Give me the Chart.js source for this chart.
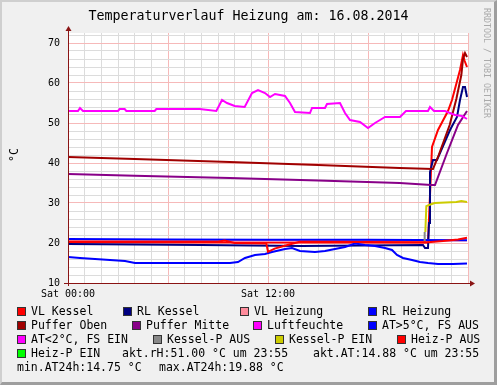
<!DOCTYPE html>
<html><head><meta charset="utf-8">
<script src="https://cdn.jsdelivr.net/npm/chart.js@4.4.1/dist/chart.umd.min.js"></script>
<style>
html,body{margin:0;padding:0;}
body{width:497px;height:385px;overflow:hidden;position:relative;background:#f0f0f0;font-family:"DejaVu Sans Mono",monospace;color:#000;}
#frame{position:absolute;left:0;top:0;width:492px;height:380px;border-left:2px solid #cfcfcf;border-top:2px solid #cfcfcf;border-right:3px solid #9e9e9e;border-bottom:3px solid #9e9e9e;}
canvas{position:absolute;left:0;top:0;}
.t{position:absolute;white-space:pre;font-size:11.5px;line-height:14px;}
.b{position:absolute;width:7px;height:7px;border:1px solid #333;}
#title{position:absolute;left:0;top:8px;width:497px;text-align:center;font-size:13.3px;line-height:16px;white-space:pre;}
#ylab{position:absolute;left:0px;top:148px;width:28px;text-align:center;font-size:11.5px;line-height:14px;transform:rotate(-90deg);}
#rrd{position:absolute;left:482px;top:8px;writing-mode:vertical-rl;font-size:8.3px;color:#aaaaaa;white-space:pre;}
</style></head>
<body>
<div id="frame"></div>
<canvas id="c" width="497" height="385"></canvas>
<div id="title">Temperaturverlauf Heizung am: 16.08.2014</div>
<div id="ylab">°C</div>
<div id="rrd">RRDTOOL / TOBI OETIKER</div>
<div id="legend"></div>
<script>
// ---- data (x = hours since Sat 00:00, y = value) ----
const xTickLabels = {0: 'Sat 00:00', 12: 'Sat 12:00'};
const yTickLabels = [10, 20, 30, 40, 50, 60, 70];

const vlKessel = [[0,20.2],[21.6,20.1],[21.72,32],[21.84,44],[22.2,48.25],[22.8,53],[23.04,55.75],[23.52,63.25],[23.7,67],[23.8,65.5],[23.94,64]];
const rlKessel = [[0,19.75],[8,19.5],[14,19.25],[21.3,19.5],[21.42,18.75],[21.6,18.75],[21.66,25],[21.72,37.75],[21.9,40.75],[22.14,40.75],[22.92,48.25],[23.34,51.5],[23.52,55.75],[23.7,59],[23.82,59],[23.94,56.5]];
const vlHeizung = [[0,20.6],[12,20.5],[23.94,20.6]];
const rlHeizung = [[0,21],[6,20.9],[12,20.8],[18,20.8],[23.94,20.7]];
const pufferOben = [[0,41.5],[4,41],[9.7,40.25],[15,39.5],[19.9,38.75],[21.9,38.5],[22.2,41.5],[22.9,49.5],[23.3,56],[23.6,62],[23.7,66],[23.82,67.5],[23.94,66.5]];
const pufferMitte = [[0,37.25],[4,36.8],[9.7,36.25],[15,35.6],[19.9,35],[21.8,34.5],[22.02,34.5],[22.74,42.5],[23.4,49.5],[23.94,53]];
const luftfeuchte = [[0,53],[0.6,53],[0.72,53.75],[0.9,53],[3.0,53],[3.1,53.5],[3.4,53.5],[3.5,53],[5.2,53],[5.3,53.5],[7.9,53.5],[8.9,53],[9.24,55.75],[9.54,55],[10.0,54.25],[10.6,54],[11.04,57.5],[11.4,58.25],[11.82,57.5],[12.12,56.5],[12.42,57.25],[13.02,56.75],[13.32,55],[13.62,52.75],[14.52,52.5],[14.64,53.75],[15.42,53.75],[15.54,54.75],[16.32,55],[16.62,52.5],[16.92,50.75],[17.52,50.25],[18.0,48.75],[18.42,50],[18.72,50.75],[19.02,51.5],[19.92,51.5],[20.28,53],[21.6,53],[21.72,54],[21.96,53],[22.62,53],[23.22,52],[23.64,51.75],[23.94,51]];
const atAussen = [[0,16.5],[0.72,16.25],[1.62,16.0],[2.52,15.75],[3.42,15.5],[4.02,15.0],[5.52,15.0],[7.92,15.0],[9.72,15.0],[10.2,15.25],[10.62,16.25],[11.22,17.0],[11.82,17.25],[12.24,17.75],[13.02,18.5],[13.44,18.75],[13.92,18.0],[14.82,17.75],[15.42,18.0],[16.02,18.5],[16.62,19.0],[17.22,19.88],[17.82,19.5],[18.42,19.25],[19.02,18.75],[19.44,18.25],[19.74,17.0],[20.1,16.25],[20.64,15.75],[21.12,15.25],[21.6,15.0],[22.2,14.75],[23.1,14.75],[23.94,14.88]];
const kesselPAus = [[21.38,20.2],[21.4,22.75]];
const kesselPEin = [[21.44,22.75],[21.5,29.2],[21.66,29.5],[22.0,30],[23.3,30.25],[23.6,30.5],[23.94,30.25]];
const heizPAus = [[0,20.3],[9.0,20.3],[9.4,20.6],[10.0,20.0],[11.9,19.9],[12.0,17.8],[12.4,18.6],[13.0,19.3],[13.9,20.3],[21.6,20.2],[22.5,20.5],[23.4,20.9],[23.94,21.3]];

// drawing order: later ones on top
const series = [
  {label:'VL Kessel', data:vlKessel, color:'#ff0000'},
  {label:'RL Kessel', data:rlKessel, color:'#000080'},
  {label:'VL Heizung', data:vlHeizung, color:'#ff8c9c'},
  {label:'RL Heizung', data:rlHeizung, color:'#0000ff'},
  {label:'Puffer Oben', data:pufferOben, color:'#a00000'},
  {label:'Puffer Mitte', data:pufferMitte, color:'#880088'},
  {label:'Luftfeuchte', data:luftfeuchte, color:'#ff00ff'},
  {label:'AT>5°C, FS AUS', data:atAussen, color:'#0000ff'},
  {label:'Kessel-P AUS', data:kesselPAus, color:'#888888'},
  {label:'Kessel-P EIN', data:kesselPEin, color:'#cccc00'},
  {label:'Heiz-P AUS', data:heizPAus, color:'#ff0000'}
];

// legend (html text)
const legendRows = [
  [['VL Kessel','#ff0000',17],['RL Kessel','#000080',123],['VL Heizung','#ff8c9c',240],['RL Heizung','#0000ff',368]],
  [['Puffer Oben','#a00000',17],['Puffer Mitte','#880088',132],['Luftfeuchte','#ff00ff',253],['AT>5°C, FS AUS','#0000ff',368]],
  [['AT<2°C, FS EIN','#ff00ff',17],['Kessel-P AUS','#888888',153],['Kessel-P EIN','#cccc00',275],['Heiz-P AUS','#ff0000',397]],
  [['Heiz-P EIN','#00ff00',17]]
];
const legendTexts = [
  [3, 122, 'akt.rH:51.00 °C um 23:55'],
  [3, 313, 'akt.AT:14.88 °C um 23:55'],
  [4, 17, 'min.AT24h:14.75 °C'],
  [4, 159, 'max.AT24h:19.88 °C']
];
const rowY = [311.5, 325.5, 339.5, 353.5, 367.5];
const lg = document.getElementById('legend');
legendRows.forEach((row, r) => row.forEach(([txt, col, x]) => {
  const b = document.createElement('div'); b.className='b';
  b.style.left = x+'px'; b.style.top = (rowY[r]-4.5)+'px'; b.style.background = col; lg.appendChild(b);
  const t = document.createElement('div'); t.className='t'; t.textContent = txt;
  t.style.left = (x+14)+'px'; t.style.top = (rowY[r]-7.5)+'px'; lg.appendChild(t);
}));
legendTexts.forEach(([r, x, txt]) => {
  const t = document.createElement('div'); t.className='t'; t.textContent = txt;
  t.style.left = x+'px'; t.style.top = (rowY[r]-7.5)+'px'; lg.appendChild(t);
});

const N = series.length;
const datasets = series.map((s, i) => ({
  label: s.label,
  data: s.data.map(p => ({x:p[0], y:p[1]})),
  borderColor: s.color, backgroundColor: s.color,
  borderWidth: 2, pointRadius: 0, tension: 0, fill: false,
  order: N - i
}));

const AXIS = '#8a1414';
const plotBg = {
  id:'plotBg',
  beforeDraw(chart){
    const {ctx, chartArea:a} = chart;
    ctx.save(); ctx.fillStyle = '#ffffff';
    ctx.fillRect(a.left, a.top, a.right-a.left, a.bottom-a.top); ctx.restore();
  },
  afterDraw(chart){
    const {ctx, chartArea:a} = chart;
    ctx.save(); ctx.strokeStyle = AXIS; ctx.fillStyle = AXIS; ctx.lineWidth = 1;
    ctx.beginPath();
    ctx.moveTo(a.left+0.5, a.bottom+3); ctx.lineTo(a.left+0.5, a.top-3);
    ctx.moveTo(a.left-4, a.bottom+0.5); ctx.lineTo(a.right+3, a.bottom+0.5);
    ctx.stroke();
    ctx.beginPath();
    ctx.moveTo(a.left+0.5, a.top-7); ctx.lineTo(a.left-2.5, a.top-2); ctx.lineTo(a.left+3.5, a.top-2); ctx.closePath(); ctx.fill();
    ctx.beginPath();
    ctx.moveTo(a.right+7, a.bottom+0.5); ctx.lineTo(a.right+2, a.bottom-2.5); ctx.lineTo(a.right+2, a.bottom+3.5); ctx.closePath(); ctx.fill();
    ctx.restore();
  }
};

new Chart(document.getElementById('c'), {
  type:'line',
  data:{datasets},
  options:{
    responsive:false, animation:false, devicePixelRatio:1,
    layout:{padding:{top:33, right:29, left:0, bottom:0}},
    plugins:{legend:{display:false}, tooltip:{enabled:false}, title:{display:false}},
    scales:{
      x:{type:'linear', min:0, max:24,
        border:{display:false},
        grid:{drawTicks:false, lineWidth:1, color: c => (c.tick && c.tick.value % 6 === 0) ? '#f6b9b9' : '#dcdcdc'},
        ticks:{stepSize:1, autoSkip:false, maxRotation:0, includeBounds:false, padding:5, color:'#000',
          font:{family:'DejaVu Sans Mono', size:10},
          callback: v => xTickLabels[v] || ''},
        afterFit: s => { s.height = 102; }
      },
      y:{type:'linear', min:10, max:72.5,
        border:{display:false},
        grid:{drawTicks:false, lineWidth:1, color: c => (c.tick && c.tick.value % 10 === 0) ? '#f6b9b9' : '#dcdcdc'},
        ticks:{stepSize:2, autoSkip:false, includeBounds:false, padding:8, color:'#000',
          font:{family:'DejaVu Sans Mono', size:10},
          callback: v => yTickLabels.includes(v) ? String(v) : ''},
        afterFit: s => { s.width = 68; }
      }
    }
  },
  plugins:[plotBg]
});
</script>
</body></html>
